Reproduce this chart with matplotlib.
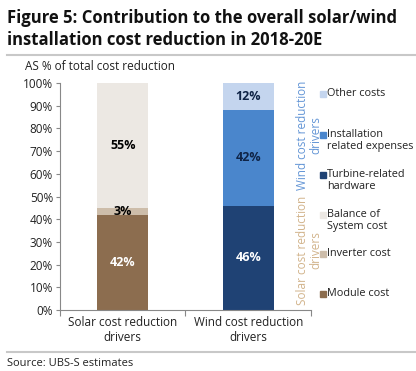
import numpy as np
import matplotlib.pyplot as plt
from matplotlib.patches import Rectangle
from matplotlib.lines import Line2D

plt.rcParams['font.family'] = ['Open Sans', 'DejaVu Sans']

# data
categories = ["Solar cost reduction\ndrivers", "Wind cost reduction\ndrivers"]
solar_names = ["Module cost", "Inverter cost", "Balance of\nSystem cost"]
solar_vals = [42, 3, 55]
wind_names = ["Turbine-related\nhardware", "Installation\nrelated expenses", "Other costs"]
wind_vals = [46, 42, 12]

solar_cols = ["#8c6d4f", "#cdbdaa", "#ece8e3"]
solar_txt = ["white", "black", "black"]
wind_cols = ["#1f4274", "#4a86cc", "#c4d5ee"]
wind_txt = ["white", "#0f2447", "#0f2447"]

W, H = 416, 371
fig = plt.figure(figsize=(W / 100, H / 100), dpi=100)


def fx(px):
    return px / W


def fy(py):
    return 1 - py / H


ax = fig.add_axes([fx(60), fy(310), fx(311) - fx(60), fy(83) - fy(310)])

x = np.arange(len(categories))
for vals, cols, tcols, xi in [(solar_vals, solar_cols, solar_txt, 0),
                              (wind_vals, wind_cols, wind_txt, 1)]:
    bottom = 0
    for v, c, tc in zip(vals, cols, tcols):
        ax.bar(xi, v, width=0.41, bottom=bottom, color=c, edgecolor='none')
        ax.text(xi, bottom + v / 2, f"{v}%", ha='center', va='center',
                fontsize=9, fontweight='bold', color=tc)
        bottom += v

ax.set_xlim(-0.5, 1.5)
ax.set_ylim(0, 100)
ax.set_yticks(np.arange(0, 101, 10))
ax.set_yticklabels([f"{t}%" for t in range(0, 101, 10)], fontsize=8.5, color='#222222')
ax.set_xticks([-0.5, 0.5, 1.5], minor=False)
ax.set_xticklabels([])
ax.set_xticks(x, minor=True)
ax.set_xticklabels(categories, minor=True, fontsize=8.5, color='#222222')
ax.tick_params(axis='x', which='minor', length=0, pad=4)
ax.tick_params(axis='x', which='major', length=4, color='#888888')
ax.tick_params(axis='y', length=3, color='#888888', pad=2)
for s in ['top', 'right']:
    ax.spines[s].set_visible(False)
for s in ['left', 'bottom']:
    ax.spines[s].set_color('#888888')
    ax.spines[s].set_linewidth(0.8)

# side group labels
fig.text(fx(309), fy(135), "Wind cost reduction\ndrivers", rotation=90,
         ha='center', va='center', fontsize=8.5, color='#6496d6', linespacing=1.0)
fig.text(fx(309), fy(250), "Solar cost reduction\ndrivers", rotation=90,
         ha='center', va='center', fontsize=8.5, color='#d2b48c', linespacing=1.0)

# legend, drawn by hand to match the uneven spacing
leg_names = [wind_names[2], wind_names[1], wind_names[0],
             solar_names[2], solar_names[1], solar_names[0]]
leg_cols = [wind_cols[2], wind_cols[1], wind_cols[0],
            solar_cols[2], solar_cols[1], solar_cols[0]]
leg_y = [94, 135, 175, 215, 254, 294]
for name, col, yy in zip(leg_names, leg_cols, leg_y):
    fig.patches.append(Rectangle((fx(320), fy(yy + 3)), fx(6), fy(0) - fy(6),
                                 transform=fig.transFigure, color=col))
    fig.text(fx(327), fy(yy - 6), name, ha='left', va='top',
             fontsize=7.8, color='#222222', linespacing=1.1)

# titles and frame lines
fig.text(fx(7), fy(18), "Figure 5: Contribution to the overall solar/wind",
         ha='left', va='center', fontsize=12, fontweight='bold', color='#111111')
fig.text(fx(7), fy(40), "installation cost reduction in 2018-20E",
         ha='left', va='center', fontsize=12, fontweight='bold', color='#111111')
fig.text(fx(25), fy(66), "AS % of total cost reduction", ha='left', va='center',
         fontsize=8.5, color='#222222')
fig.lines.append(Line2D([fx(7), 1], [fy(55), fy(55)], transform=fig.transFigure,
                        color='#c8c8c8', lw=1.5))
fig.lines.append(Line2D([fx(7), 1], [fy(352), fy(352)], transform=fig.transFigure,
                        color='#c8c8c8', lw=1.5))
fig.text(fx(7), fy(363), "Source: UBS-S estimates", ha='left', va='center',
         fontsize=8, color='#222222')

fig.savefig('out.png', dpi=100)
